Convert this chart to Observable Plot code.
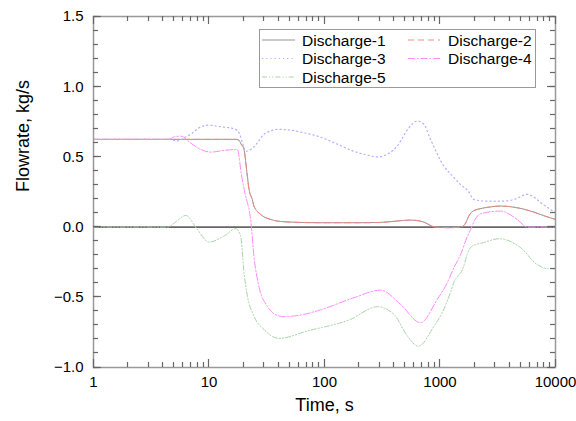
<!DOCTYPE html>
<html>
<head>
<meta charset="utf-8">
<script src="https://cdn.jsdelivr.net/npm/d3@7"></script>
<script src="https://cdn.jsdelivr.net/npm/@observablehq/plot@0.6"></script>
<style>
  html, body { margin: 0; padding: 0; background: #fff; }
  #chart { width: 576px; height: 421px; }
</style>
</head>
<body>
<div id="chart"></div>
<script>
// ---- data ----
const seriesNames = ["Discharge-1", "Discharge-2", "Discharge-3", "Discharge-4", "Discharge-5"];

const d1Time = [1, 17.1, 18.1, 19, 20, 21.5, 22.2, 23.7, 24.5, 28, 34, 44.6, 92, 200, 300, 420, 556, 700, 914, 1200, 1504, 1600, 1670, 1780, 1898, 2200, 2700, 3338, 4500, 6480, 8000, 10000];
const d1Flow = [0.625, 0.625, 0.62, 0.59, 0.56, 0.36, 0.27, 0.197, 0.15, 0.09, 0.055, 0.038, 0.031, 0.031, 0.033, 0.043, 0.05, 0.04, 0.0, -0.004, 0.0, 0.01, 0.03, 0.08, 0.11, 0.13, 0.143, 0.15, 0.14, 0.107, 0.08, 0.055];

const d2Time = d1Time;
const d2Flow = [0.625, 0.625, 0.62, 0.59, 0.56, 0.36, 0.27, 0.197, 0.15, 0.09, 0.055, 0.038, 0.031, 0.031, 0.033, 0.043, 0.05, 0.04, 0.0, -0.004, 0.0, 0.01, 0.03, 0.08, 0.11, 0.13, 0.143, 0.15, 0.14, 0.107, 0.08, 0.055];

const d3Time = [1, 4.5, 5.4, 6.2, 7.2, 8.2, 10, 12.6, 16.5, 18.2, 19.5, 20.8, 23, 26.2, 29.8, 34, 39, 50.8, 66, 87, 130, 179, 230, 286, 350, 426, 530, 635, 720, 828, 1079, 1300, 1504, 1760, 1963, 2500, 3565, 4500, 5680, 7860, 10000];
const d3Flow = [0.625, 0.625, 0.614, 0.64, 0.67, 0.708, 0.726, 0.715, 0.70, 0.672, 0.60, 0.54, 0.553, 0.60, 0.66, 0.684, 0.696, 0.691, 0.672, 0.648, 0.59, 0.54, 0.515, 0.50, 0.52, 0.577, 0.70, 0.755, 0.735, 0.625, 0.435, 0.36, 0.304, 0.256, 0.197, 0.185, 0.185, 0.2, 0.233, 0.16, 0.10];

const d4Time = [1, 4.5, 5.0, 5.7, 6.9, 8.5, 10.4, 13.5, 17.6, 18.2, 18.8, 20.4, 23.1, 24.5, 27, 32, 39, 44.6, 66, 92, 180, 306, 455, 678, 946, 1150, 1318, 1500, 1719, 1836, 2000, 2240, 3338, 4655, 5680, 7000, 10000];
const d4Flow = [0.625, 0.625, 0.643, 0.648, 0.60, 0.553, 0.534, 0.546, 0.553, 0.505, 0.41, 0.25, 0.03, -0.207, -0.42, -0.563, -0.629, -0.638, -0.622, -0.59, -0.503, -0.449, -0.55, -0.681, -0.515, -0.40, -0.29, -0.20, -0.07, -0.02, 0.05, 0.095, 0.114, 0.055, 0.0, 0.0, 0.0];

const d5Time = [1, 4.4, 5.2, 6.3, 7.9, 10.0, 13.5, 17.1, 18.8, 20.1, 21.5, 24.5, 29.9, 40.3, 71, 168, 286, 398, 522, 650, 888, 1045, 1230, 1318, 1606, 1719, 1898, 2380, 3230, 5000, 6920, 8550, 10000];
const d5Flow = [0, 0, 0.04, 0.083, -0.016, -0.107, -0.064, -0.011, -0.064, -0.325, -0.49, -0.634, -0.729, -0.793, -0.74, -0.657, -0.567, -0.62, -0.776, -0.848, -0.705, -0.61, -0.467, -0.396, -0.278, -0.194, -0.135, -0.111, -0.083, -0.147, -0.266, -0.296, -0.296];

const xMajorTicks = [1, 10, 100, 1000, 10000];
const xMinorTicks = [1, 10, 100, 1000].flatMap(d => [2, 3, 4, 5, 6, 7, 8, 9].map(k => k * d));
const yMajorTicks = [-1.0, -0.5, 0.0, 0.5, 1.0, 1.5];
const yMinorTicks = d3.range(-10, 16).map(i => i / 10);

const xTitle = "Time, s";
const yTitle = "Flowrate, kg/s";

// ---- styles ----
const colors = ["#959595", "#f08a80", "#b0b0ff", "#ff8aff", "#a8d4a8"];
const dashes = [null, "6,4", "1.2,3", "7,2,1.5,2", "5,2,1.2,2,1.2,2"];
const widths = [1.0, 1.0, 1.2, 1.0, 1.0];

const allTimes = [d1Time, d2Time, d3Time, d4Time, d5Time];
const allFlows = [d1Flow, d2Flow, d3Flow, d4Flow, d5Flow];
const seriesData = seriesNames.map((name, i) =>
  allTimes[i].map((t, j) => ({series: name, t, v: allFlows[i][j]}))
);

const font = "Arial, 'Liberation Sans', sans-serif";
const axisCol = "#999";
const tickCol = "#666";

const plot = Plot.plot({
  width: 576,
  height: 421,
  marginLeft: 93,
  marginRight: 21,
  marginTop: 16,
  marginBottom: 54,
  style: {fontFamily: font, fontSize: "15px", background: "white", color: "black"},
  x: {type: "log", domain: [1, 10000], label: null},
  y: {domain: [-1, 1.5], label: null},
  marks: [
    Plot.ruleY([0], {stroke: "#666", strokeWidth: 1.6}),
    ...seriesData.map((data, i) => Plot.line(data, {
      x: "t", y: "v", stroke: colors[i], strokeWidth: widths[i],
      strokeDasharray: dashes[i], curve: "monotone-x"
    })),
    Plot.axisX(xMajorTicks, {anchor: "bottom", tickSize: 0, tickPadding: 9, tickFormat: d => String(d), fill: "black", fontSize: 15, label: null}),
    Plot.axisY(yMajorTicks, {anchor: "left", tickSize: 0, tickPadding: 10, tickFormat: d3.format(".1f"), fill: "black", fontSize: 15, label: null}),
    Plot.frame({stroke: axisCol, strokeWidth: 1.5}),
    // axis titles
    Plot.text([xTitle], {frameAnchor: "bottom", dy: 43, fontSize: 18, fill: "black", text: d => d}),
    Plot.text([yTitle], {frameAnchor: "left", dx: -70, rotate: -90, fontSize: 18, fill: "black", text: d => d})
  ]
});

const svg = d3.select(plot);

// ---- inward ticks on all four sides, placed with Plot's own scales ----
const sx = plot.scale("x"), sy = plot.scale("y");
const [x0, x1] = sx.range, [y0, y1] = sy.range; // y0 bottom, y1 top
const crisp = v => Math.round(v - 0.5) + 0.5;
const tg = svg.append("g");
const tick = (xa, xb, ya, yb) => tg.append("line")
  .attr("x1", xa).attr("x2", xb).attr("y1", ya).attr("y2", yb)
  .attr("stroke", tickCol).attr("stroke-width", 1.2);
[[xMinorTicks, 5], [xMajorTicks, 8]].forEach(([ticks, len]) => ticks.forEach(t => {
  const px = crisp(sx.apply(t));
  tick(px, px, y0, y0 - len);
  tick(px, px, y1, y1 + len);
}));
[[yMinorTicks, 5], [yMajorTicks, 8]].forEach(([ticks, len]) => ticks.forEach(v => {
  const py = crisp(sy.apply(v));
  tick(x0, x0 + len, py, py);
  tick(x1, x1 - len, py, py);
}));

// ---- in-plot legend ----
const lg = svg.append("g").attr("font-family", font).attr("font-size", "15.5px").attr("text-anchor", "start");
lg.append("rect").attr("x", 259.5).attr("y", 29.5).attr("width", 276).attr("height", 58)
  .attr("fill", "white").attr("stroke", "#999").attr("stroke-width", 1);
const cols = [{lx1: 262, lx2: 295, tx: 302}, {lx1: 408, lx2: 440, tx: 448}];
const rowsY = [40, 58.5, 77];
seriesNames.forEach((name, i) => {
  const c = cols[i % 2];
  const ry = rowsY[Math.floor(i / 2)];
  const ln = lg.append("line").attr("x1", c.lx1).attr("x2", c.lx2).attr("y1", ry).attr("y2", ry)
    .attr("stroke", colors[i]).attr("stroke-width", widths[i]);
  if (dashes[i]) ln.attr("stroke-dasharray", dashes[i]);
  lg.append("text").attr("x", c.tx).attr("y", ry + 5.5).attr("fill", "black").attr("text-anchor", "start").text(name);
});

document.getElementById("chart").appendChild(plot);
</script>
</body>
</html>
